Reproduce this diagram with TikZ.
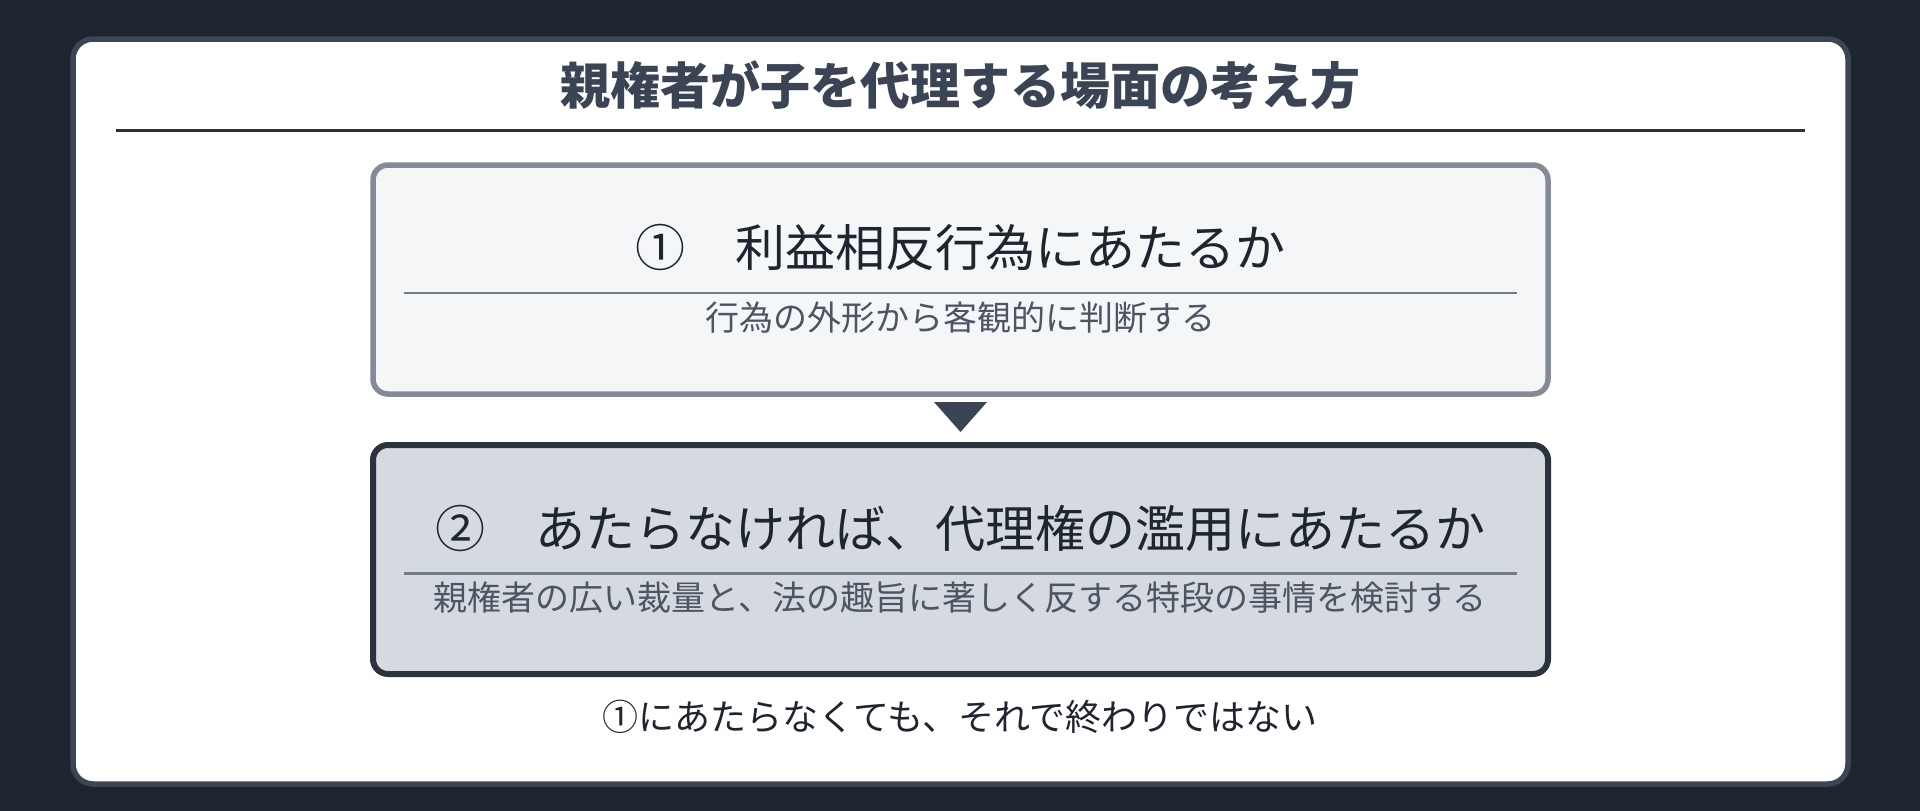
\documentclass[tikz,border=0pt]{standalone}
\usepackage{fontspec}
\newfontfamily\jp{Noto Sans CJK JP}
\usetikzlibrary{calc}
\definecolor{bgc}{HTML}{1E252F}
\definecolor{cardborder}{HTML}{3B4554}
\definecolor{titlec}{HTML}{3A4454}
\definecolor{rulec}{HTML}{2B323D}
\definecolor{boxaborder}{HTML}{848B98}
\definecolor{boxafill}{HTML}{F5F6F8}
\definecolor{innerrule}{HTML}{737B88}
\definecolor{boxbborder}{HTML}{2B3340}
\definecolor{boxbfill}{HTML}{D5D9E0}
\definecolor{maintext}{HTML}{1E252F}
\definecolor{subtext}{HTML}{4D5563}
\definecolor{tric}{HTML}{3A4454}
\tikzset{
  panel/.style={rectangle, inner sep=0pt, outer sep=0pt, minimum width=1175pt, minimum height=229pt, rounded corners=15pt},
  mainlbl/.style={anchor=base, inner sep=0pt, text=maintext, font=\jp\fontsize{50}{60}\selectfont},
  sublbl/.style={anchor=base, inner sep=0pt, text=subtext, font=\jp\fontsize{34}{40}\selectfont},
}
\begin{document}
\begin{tikzpicture}[x=1pt,y=-1pt]
\useasboundingbox (0,0) rectangle (1920,811);
\fill[bgc] (0,0) rectangle (1920,811);
% card
\node[rectangle, inner sep=0pt, outer sep=0pt, minimum width=1775pt, minimum height=745pt, rounded corners=20pt, draw=cardborder, fill=white, line width=5.5pt] (card) at (960.5,411.5) {};
% title
\node[anchor=base, inner sep=0pt, text=titlec, font=\jp\bfseries\fontsize{50}{60}\selectfont] (title) at (960,104) {親権者が子を代理する場面の考え方};
\coordinate (trl) at (116,130.5);
\coordinate (trr) at (1805,130.5);
\draw[rulec, line width=3pt] (trl) -- (trr);
% box 1
\node[panel, draw=boxaborder, fill=boxafill, line width=5.5pt] (b1) at (960.5,279.5) {};
\node[mainlbl] (b1t) at (960,266.5) {①　利益相反行為にあたるか};
\coordinate (r1l) at (404,293);
\coordinate (r1r) at (1517,293);
\draw[innerrule, line width=2.7pt] (r1l) -- (r1r);
\node[sublbl] (b1s) at (960,330.5) {行為の外形から客観的に判断する};
% arrow triangle
\fill[tric] ($(b1.south)+(-26.5,8)$) -- ($(b1.south)+(26.5,8)$) -- ($(b1.south)+(0,38)$) -- cycle;
% box 2
\node[panel, draw=boxbborder, fill=boxbfill, line width=6pt] (b2) at (960.5,559.5) {};
\node[mainlbl] (b2t) at (960,547) {②　あたらなければ、代理権の濫用にあたるか};
\coordinate (r2l) at (404,573.5);
\coordinate (r2r) at (1517,573.5);
\draw[innerrule, line width=2.7pt] (r2l) -- (r2r);
\node[sublbl] (b2s) at (960,610) {親権者の広い裁量と、法の趣旨に著しく反する特段の事情を検討する};
% bottom note
\node[anchor=base, inner sep=0pt, text=maintext, font=\jp\fontsize{36}{44}\selectfont] (note) at (960,730) {①にあたらなくても、それで終わりではない};
\end{tikzpicture}
\end{document}
